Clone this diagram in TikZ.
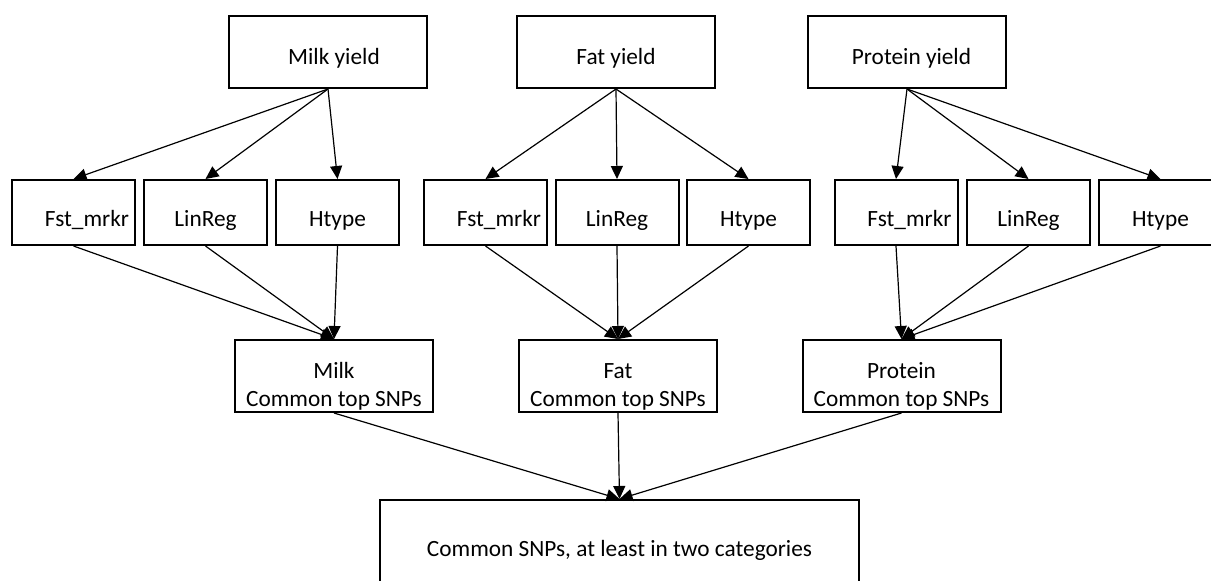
\documentclass[tikz,border=0pt]{standalone}
\usepackage{fontspec}
\setmainfont{Carlito}
\usetikzlibrary{arrows.meta}
\begin{document}
\begin{tikzpicture}[x=1pt,y=-1pt,
  box/.style={draw, line width=2pt, rectangle, inner sep=0pt, font=\fontsize{23.3}{28}\selectfont},
  topbox/.style={box, minimum width=198pt, minimum height=72pt, text height=26pt, text depth=2pt},
  methbox/.style={box, minimum width=123pt, minimum height=65pt, text height=30pt, text depth=1.6pt},
  fstbox/.style={methbox, text width=111pt, align=right},
  commbox/.style={box, minimum width=198pt, minimum height=72pt},
  finalbox/.style={box, minimum width=479pt, minimum height=100pt, text height=18pt, text depth=6pt},
  conn/.style={line width=1.2pt, -{Triangle[length=13pt,width=12pt]}}
]
\useasboundingbox (0,0) rectangle (1211,581);
\clip (0,0) rectangle (1211,581);
\fill[white] (0,0) rectangle (1211,581);

% top row
\node[topbox] (my) at (328,52) {\hspace*{12pt}Milk yield};
\node[topbox] (fy) at (616,52) {Fat yield};
\node[topbox] (py) at (907,52) {\hspace*{9pt}Protein yield};

% method row
\node[fstbox]  (m1) at (73.5,212.5)  {Fst\_mrkr};
\node[methbox] (m2) at (205.5,212.5) {LinReg};
\node[methbox] (m3) at (337.5,212.5) {Htype};
\node[fstbox]  (f1) at (485.5,212.5) {Fst\_mrkr};
\node[methbox] (f2) at (617,212.5)   {LinReg};
\node[methbox] (f3) at (748.5,212.5) {Htype};
\node[fstbox]  (p1) at (896,212.5)   {Fst\_mrkr};
\node[methbox] (p2) at (1028.5,212.5){LinReg};
\node[methbox] (p3) at (1160.5,212.5){Htype};

% common row
\node[commbox] (mc) at (334,376) {\raisebox{-2pt}[0pt][0pt]{\begin{tabular}[t]{@{}c@{}}Milk\\Common top SNPs\end{tabular}}};
\node[commbox] (fc) at (618,376) {\raisebox{-2pt}[0pt][0pt]{\begin{tabular}[t]{@{}c@{}}Fat\\Common top SNPs\end{tabular}}};
\node[commbox] (pc) at (901.5,376) {\raisebox{-2pt}[0pt][0pt]{\begin{tabular}[t]{@{}c@{}}Protein\\Common top SNPs\end{tabular}}};

% final
\node[finalbox] (fin) at (619.5,550) {Common SNPs, at least in two categories};

% connectors
\foreach \s/\t in {my/m1,my/m2,my/m3,fy/f1,fy/f2,fy/f3,py/p1,py/p2,py/p3,
                   m1/mc,m2/mc,m3/mc,f1/fc,f2/fc,f3/fc,p1/pc,p2/pc,p3/pc,
                   mc/fin,fc/fin,pc/fin}
  \draw[conn] (\s.south) -- (\t.north);
\end{tikzpicture}
\end{document}
